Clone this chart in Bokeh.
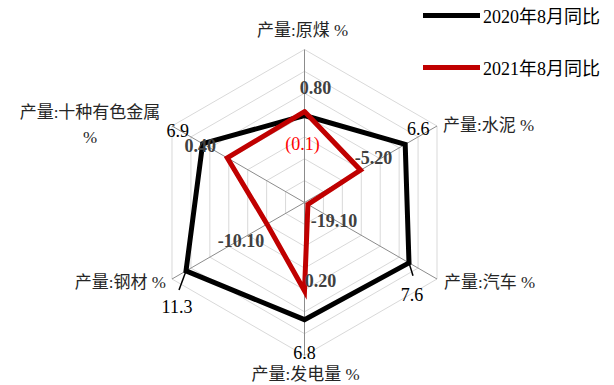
import numpy as np
from bokeh.plotting import figure
from bokeh.models import Range1d, ColumnDataSource, Legend, LegendItem
from bokeh.core.properties import value
from bokeh.embed import file_html
from bokeh.resources import INLINE

# ---------------- data ----------------
categories = ["产量:原煤 %", "产量:水泥 %", "产量:汽车 %", "产量:发电量 %", "产量:钢材 %", "产量:十种有色金属\n%"]
series_2020 = [-0.1, 6.6, 7.6, 6.8, 11.3, 6.9]
series_2021 = [0.8, -5.2, -19.1, 0.2, -10.1, 0.4]
labels_2020 = ["(0.1)", "6.6", "7.6", "6.8", "11.3", "6.9"]
labels_2021 = ["0.80", "-5.20", "-19.10", "0.20", "-10.10", "0.40"]
series_names = ["2020年8月同比", "2021年8月同比"]
axis_min, axis_max, axis_step = -20, 15, 5

# ---------------- layout / style ----------------
W, H = 614, 385
CX, CY = 304, H - 202      # radar centre (data units = pixels)
R = 153                    # outer ring radius
FONT = "Liberation Serif, Noto Sans CJK SC"
n = len(categories)
ang = np.deg2rad(90 - 60 * np.arange(n))

def radius(v):
    return (np.asarray(v, dtype=float) - axis_min) / (axis_max - axis_min) * R

def xy(vals):
    r = radius(vals)
    return CX + r * np.cos(ang), CY + r * np.sin(ang)

p = figure(width=W, height=H, output_backend="svg", toolbar_location=None,
           x_range=Range1d(0, W), y_range=Range1d(0, H), min_border=0)
p.axis.visible = False
p.grid.visible = False
p.outline_line_color = None
p.background_fill_color = "white"

# rings
ring_vals = np.arange(axis_min + axis_step, axis_max + 0.001, axis_step)
rx, ry = [], []
for rv in ring_vals:
    x, y = xy([rv] * n)
    rx.append(list(x) + [x[0]])
    ry.append(list(y) + [y[0]])
p.multi_line(rx, ry, line_color="#d9d9d9", line_width=1)

# spokes
ox, oy = xy([axis_max] * n)
p.segment(x0=[CX] * n, y0=[CY] * n, x1=ox, y1=oy, line_color="#8c8c8c", line_width=1)

# series
bx, by = xy(series_2020)
rx2, ry2 = xy(series_2021)
black = p.line(list(bx) + [bx[0]], list(by) + [by[0]], line_color="#000000", line_width=5,
               line_join="miter", line_cap="round")
red = p.line(list(rx2) + [rx2[0]], list(ry2) + [ry2[0]], line_color="#c00000", line_width=5,
             line_join="miter", line_cap="round")

# leader lines for some 2020 labels
lead_idx = [2, 4]
lead_off = [(4, 13), (-7, 19)]
p.segment(x0=[bx[i] for i in lead_idx], y0=[by[i] for i in lead_idx],
          x1=[bx[i] + o[0] for i, o in zip(lead_idx, lead_off)],
          y1=[by[i] - o[1] for i, o in zip(lead_idx, lead_off)],
          line_color="#000000", line_width=1.5)

# data labels 2020 (pixel offsets: dx right, dy down)
off_2020 = [(-2, 28), (13, -16), (3, 32), (0, 33), (-9, 36), (-25, -13)]
col_2020 = ["#ff0000", "#000000", "#000000", "#000000", "#000000", "#000000"]
s20 = ColumnDataSource(dict(x=[bx[i] + off_2020[i][0] for i in range(n)],
                            y=[by[i] - off_2020[i][1] for i in range(n)],
                            t=labels_2020, c=col_2020))
p.text(x="x", y="y", text="t", source=s20, text_color="c", text_font=value(FONT),
       text_font_size="18px", text_align="center", text_baseline="middle")

# data labels 2021
off_2021 = [(11, -24), (13, -13), (26, 16), (16, -10), (-26, 16), (-27, -12)]
s21 = ColumnDataSource(dict(x=[rx2[i] + off_2021[i][0] for i in range(n)],
                            y=[ry2[i] - off_2021[i][1] for i in range(n)],
                            t=labels_2021))
p.text(x="x", y="y", text="t", source=s21, text_color="#404040", text_font=value(FONT),
       text_font_size="18px", text_font_style="bold", text_align="center", text_baseline="middle")

# category labels
cat_off = [(-2, -19), (6, -1), (7, 3), (1, 19), (-6, 3), (-82, -1)]
cat_align = ["center", "left", "left", "center", "right", "center"]
sc = ColumnDataSource(dict(x=[ox[i] + cat_off[i][0] for i in range(n)],
                           y=[oy[i] - cat_off[i][1] for i in range(n)],
                           t=categories, a=cat_align))
p.text(x="x", y="y", text="t", source=sc, text_align="a", text_color="#262626",
       text_font=value(FONT), text_font_size="17px", text_baseline="middle",
       text_line_height=1.3)

# legend
legend = Legend(items=[LegendItem(label=series_names[0], renderers=[black]),
                       LegendItem(label=series_names[1], renderers=[red])],
                location=(423, 305), orientation="vertical",
                glyph_width=57, glyph_height=20, label_height=20, spacing=26,
                padding=0, margin=0, label_standoff=3,
                label_text_font=FONT, label_text_font_size="18px",
                label_text_color="#000000",
                border_line_alpha=0, background_fill_alpha=0)
p.add_layout(legend)

open("out.html", "w").write(file_html(p, INLINE))
